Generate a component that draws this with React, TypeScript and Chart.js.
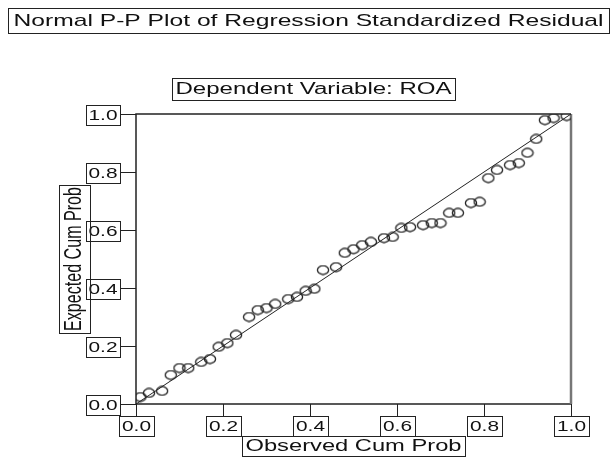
import React, { useEffect, useRef } from "react";
import { Chart, registerables } from "chart.js";

Chart.register(...registerables);

const TITLE = "Normal P-P Plot of Regression Standardized Residual";
const SUBTITLE = "Dependent Variable: ROA";
const X_TITLE = "Observed Cum Prob";
const Y_TITLE = "Expected Cum Prob";
const X_TICKS = [0, 0.2, 0.4, 0.6, 0.8, 1.0];
const Y_TICKS = [0, 0.2, 0.4, 0.6, 0.8, 1.0];
const TICK_LABELS = ["0.0", "0.2", "0.4", "0.6", "0.8", "1.0"];

const OBSERVED = [
  0.01, 0.03, 0.06, 0.08, 0.1, 0.12, 0.15, 0.17, 0.19, 0.21, 0.23, 0.26, 0.28, 0.3, 0.32,
  0.35, 0.37, 0.39, 0.41, 0.43, 0.46, 0.48, 0.5, 0.52, 0.54, 0.57, 0.59, 0.61, 0.63, 0.66,
  0.68, 0.7, 0.72, 0.74, 0.77, 0.79, 0.81, 0.83, 0.86, 0.88, 0.9, 0.92, 0.94, 0.96, 0.99,
];
const EXPECTED = [
  0.024, 0.038, 0.045, 0.1, 0.124, 0.124, 0.145, 0.155, 0.197, 0.21, 0.238, 0.3, 0.324, 0.331,
  0.345, 0.362, 0.369, 0.39, 0.397, 0.462, 0.472, 0.521, 0.534, 0.548, 0.559, 0.572, 0.576,
  0.607, 0.61, 0.617, 0.624, 0.624, 0.659, 0.659, 0.693, 0.697, 0.779, 0.807, 0.824, 0.831,
  0.866, 0.914, 0.979, 0.986, 0.993,
];
const REF_X = [0, 1];
const REF_Y = [0, 1];

const FONT = '"Liberation Sans", Arial, sans-serif';
const STRETCH = 1.45;

function fitText(ctx: CanvasRenderingContext2D, text: string, cx: number, cy: number, px: number, targetW: number) {
  ctx.save();
  ctx.font = `${px}px ${FONT}`;
  const w = ctx.measureText(text).width;
  ctx.translate(cx, cy);
  ctx.scale(targetW / w, 1);
  ctx.textAlign = "center";
  ctx.textBaseline = "middle";
  ctx.fillStyle = "#111";
  ctx.fillText(text, 0, 0);
  ctx.restore();
}

function rotText(ctx: CanvasRenderingContext2D, text: string, cx: number, cy: number, px: number, targetL: number) {
  ctx.save();
  ctx.font = `${px}px ${FONT}`;
  const w = ctx.measureText(text).width;
  ctx.translate(cx, cy);
  ctx.scale(STRETCH, targetL / w);
  ctx.rotate(-Math.PI / 2);
  ctx.textAlign = "center";
  ctx.textBaseline = "middle";
  ctx.fillStyle = "#111";
  ctx.fillText(text, 0, 0);
  ctx.restore();
}

function box(ctx: CanvasRenderingContext2D, x1: number, y1: number, x2: number, y2: number) {
  ctx.save();
  ctx.strokeStyle = "#222";
  ctx.lineWidth = 1;
  ctx.strokeRect(Math.round(x1) + 0.5, Math.round(y1) + 0.5, Math.round(x2 - x1), Math.round(y2 - y1));
  ctx.restore();
}

function makeMarker(): HTMLCanvasElement {
  const c = document.createElement("canvas");
  c.width = 14;
  c.height = 11;
  const g = c.getContext("2d")!;
  g.strokeStyle = "#222";
  g.lineWidth = 1.3;
  g.beginPath();
  g.ellipse(7, 5.5, 5.6, 4.3, 0, 0, Math.PI * 2);
  g.stroke();
  return c;
}

const decorPlugin = {
  id: "spssDecor",
  beforeDatasetsDraw(chart: any) {
    const { ctx, chartArea: a } = chart;
    ctx.save();
    ctx.lineWidth = 1.5;
    ctx.strokeStyle = "#222";
    ctx.beginPath();
    ctx.moveTo(a.left, a.bottom);
    ctx.lineTo(a.left, a.top);
    ctx.lineTo(a.right, a.top);
    ctx.moveTo(a.left, a.bottom);
    ctx.lineTo(a.right, a.bottom);
    ctx.stroke();
    ctx.lineWidth = 2.5;
    ctx.strokeStyle = "#777";
    ctx.beginPath();
    ctx.moveTo(a.right, a.top);
    ctx.lineTo(a.right, a.bottom);
    ctx.stroke();
    ctx.restore();
  },
  afterDraw(chart: any) {
    const { ctx, chartArea: a } = chart;
    const xs = chart.scales.x;
    const ys = chart.scales.y;
    ctx.save();
    box(ctx, 8, 8, 609, 33);
    fitText(ctx, TITLE, 308.5, 21, 17, 590);
    box(ctx, 172, 78, 455, 100);
    fitText(ctx, SUBTITLE, 313.5, 89.5, 16, 276);

    ctx.strokeStyle = "#222";
    ctx.lineWidth = 1;
    Y_TICKS.forEach((v, i) => {
      const py = Math.round(ys.getPixelForValue(v));
      ctx.beginPath();
      ctx.moveTo(a.left - 16, py + 0.5);
      ctx.lineTo(a.left, py + 0.5);
      ctx.stroke();
      box(ctx, a.left - 50, py - 9, a.left - 16, py + 11);
      fitText(ctx, TICK_LABELS[i], a.left - 33, py + 2, 14, 29);
    });
    X_TICKS.forEach((v, i) => {
      const px = Math.round(xs.getPixelForValue(v));
      ctx.beginPath();
      ctx.moveTo(px + 0.5, a.bottom);
      ctx.lineTo(px + 0.5, a.bottom + 12);
      ctx.stroke();
      box(ctx, px - 17, a.bottom + 12, px + 18, a.bottom + 32);
      fitText(ctx, TICK_LABELS[i], px + 0.5, a.bottom + 23, 14, 29);
    });
    box(ctx, 242, 436, 465, 456);
    fitText(ctx, X_TITLE, 353.5, 446.5, 16, 216);
    box(ctx, 59, 185, 90, 333);
    rotText(ctx, Y_TITLE, 75, 259, 16, 144);
    ctx.restore();
  },
};

export default function App() {
  const ref = useRef<HTMLCanvasElement | null>(null);
  useEffect(() => {
    if (!ref.current) return;
    const marker = makeMarker();
    const chart = new Chart(ref.current, {
      type: "scatter",
      data: {
        datasets: [
          {
            label: "ref",
            data: REF_X.map((x, i) => ({ x, y: REF_Y[i] })),
            showLine: true,
            borderColor: "#222",
            borderWidth: 1,
            pointRadius: 0,
            fill: false,
          },
          {
            label: "points",
            data: OBSERVED.map((x, i) => ({ x, y: EXPECTED[i] })),
            showLine: false,
            pointStyle: marker,
            pointRadius: 6,
            borderColor: "#222",
            backgroundColor: "rgba(0,0,0,0)",
          },
        ],
      },
      options: {
        responsive: false,
        animation: false,
        layout: { padding: { left: 136, top: 114, right: 42, bottom: 53 } },
        plugins: { legend: { display: false }, tooltip: { enabled: false }, title: { display: false } },
        scales: {
          x: { type: "linear", min: 0, max: 1, display: false },
          y: { type: "linear", min: 0, max: 1, display: false },
        },
      },
      plugins: [decorPlugin],
    });
    return () => chart.destroy();
  }, []);
  return (
    <div style={{ position: "fixed", left: 0, top: 0, width: 613, height: 457, background: "#fff" }}>
      <canvas ref={ref} width={613} height={457} style={{ display: "block" }} />
    </div>
  );
}
